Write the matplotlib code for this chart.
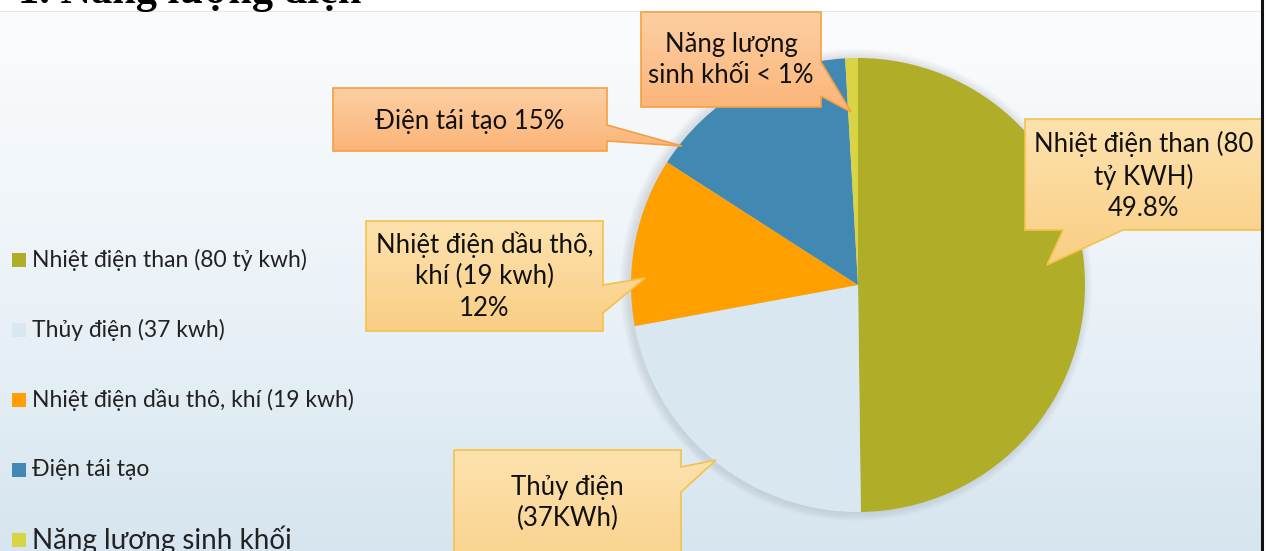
import numpy as np
import matplotlib.pyplot as plt
from matplotlib.patches import Polygon, Circle, Rectangle
from matplotlib.colors import LinearSegmentedColormap

W, H = 1268, 551

# electricity sources and their share (%)
sources = ["Nhiệt điện than (80 tỷ kwh)", "Thủy điện (37 kwh)",
           "Nhiệt điện dầu thô, khí (19 kwh)", "Điện tái tạo",
           "Năng lượng sinh khối"]
shares = [49.8, 22.3, 12.0, 15.0, 0.9]
colors = ["#B0AE28", "#D8E7F0", "#FF9F00", "#4189B3", "#D8D444"]

callout_texts = ["Nhiệt điện than (80\ntỷ KWH)\n49.8%",
                 "Thủy điện\n(37KWh)",
                 "Nhiệt điện dầu thô,\nkhí (19 kwh)\n12%",
                 "Điện tái tạo 15%",
                 "Năng lượng\nsinh khối < 1%"]

FONT = "Lato"

fig = plt.figure(figsize=(W / 100, H / 100), dpi=100)
ax = fig.add_axes([0, 0, 1, 1])

# background: white strip on top, soft blue gradient below
grad = np.linspace(0, 1, 256).reshape(-1, 1)
bg_cmap = LinearSegmentedColormap.from_list("bg", ["#FBFCFE", "#ECF3F8", "#D6E5EF"])
ax.imshow(grad, cmap=bg_cmap, extent=(0, W, H, 11), aspect="auto", zorder=0)
ax.plot([0, W], [11, 11], color="#E6E9EC", lw=0.8, zorder=1)

# pie with a soft shadow
cx, cy, r = 858, 285, 227
for k in range(1, 10):
    ax.add_patch(Circle((cx - 2, cy), r + k, color="#7A8590", alpha=0.025, lw=0, zorder=2))
ax.pie(shares, colors=colors, startangle=-90, counterclock=True,
       center=(cx, cy), radius=r, wedgeprops=dict(lw=0, zorder=3))


def callout(text, box, side, base, tip, cols, edge, size, text_y=None):
    x0, y0, x1, y1 = box
    if side == "right":
        pts = [(x0, y0), (x1, y0), (x1, base[0]), tip, (x1, base[1]), (x1, y1), (x0, y1)]
    else:
        pts = [(x0, y0), (x1, y0), (x1, y1), (base[1], y1), tip, (base[0], y1), (x0, y1)]
    poly = Polygon(pts, closed=True, fc="none", ec=edge, lw=1.2, zorder=6)
    ax.add_patch(poly)
    xs = [p[0] for p in pts]
    ys = [p[1] for p in pts]
    cm = LinearSegmentedColormap.from_list("c", cols)
    im = ax.imshow(grad, cmap=cm, extent=(min(xs), max(xs), max(ys), min(ys)),
                   aspect="auto", zorder=5)
    im.set_clip_path(poly)
    ty = (y0 + y1) / 2 if text_y is None else text_y
    ax.text((x0 + x1) / 2, ty, text, ha="center", va="center",
            fontsize=size, family=FONT, color="#111111", linespacing=1.32, zorder=7)


peach = ["#FDCFA3", "#FBB478"]
sand = ["#FDE2AE", "#F9CE84"]
fs = 18.5
callout(callout_texts[0], (1025, 119, 1262, 230), "bottom", (1063, 1123), (1047, 265), sand, "#F4C24A", fs, 176)
callout(callout_texts[1], (454, 450, 681, 600), "right", (467, 492), (716, 460), sand, "#F4C24A", fs, 503)
callout(callout_texts[2], (366, 221, 603, 331), "right", (285, 313), (645, 278), sand, "#F4C24A", fs, 276)
callout(callout_texts[3], (333, 88, 607, 151), "right", (125, 141), (682, 146), peach, "#F5A040", fs, 121)
callout(callout_texts[4], (641, 12, 821, 107), "right", (62, 96), (851, 112), peach, "#F5A040", fs, 60)

# legend on the left
leg_y = [260, 330, 400, 470, 540]
for i, (name, c) in enumerate(zip(sources, colors)):
    ax.add_patch(Rectangle((12, leg_y[i] - 7), 14, 14, color=c, lw=0, zorder=4))
    big = i == len(sources) - 1
    ax.text(32, leg_y[i], name, ha="left", va="center", family=FONT,
            fontsize=20 if big else 16.5, color="#222222", zorder=4)

# title, partly cut off at the top
ax.text(18, 3, "1. Năng lượng điện", ha="left", va="baseline",
        family="Liberation Serif", fontweight="bold", fontsize=30.5, color="#000000", zorder=8)

# right frame edge
ax.add_patch(Rectangle((1263, 0), 10, H, color="white", lw=0, zorder=8))
ax.plot([1261.5, 1261.5], [0, H], color="#111111", lw=2.2, zorder=9)

ax.set_xlim(0, W)
ax.set_ylim(H, 0)
ax.set_aspect("auto")
ax.axis("off")

fig.savefig("out.png", dpi=100)
